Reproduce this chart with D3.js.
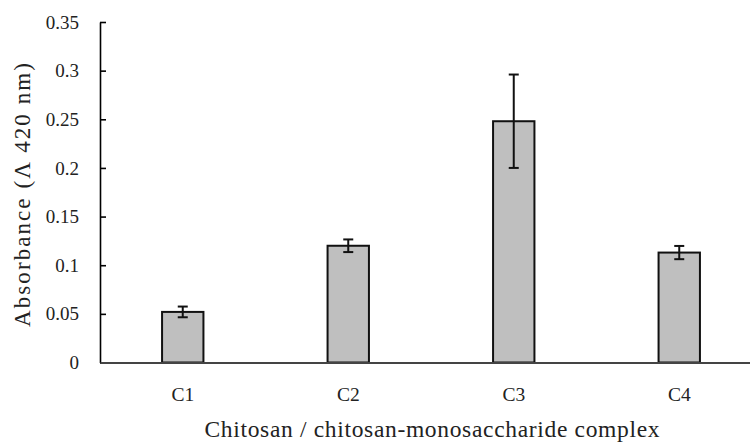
<!DOCTYPE html>
<html><head><meta charset="utf-8">
<script src="https://cdn.jsdelivr.net/npm/d3@7"></script>
<style>body{margin:0;background:#fff}svg{display:block}</style>
</head><body>
<svg id="chart" width="750" height="443"></svg>
<script>
const categories = ["C1", "C2", "C3", "C4"];
const values = [0.052, 0.120, 0.248, 0.113];
const errors = [0.0055, 0.0065, 0.048, 0.0068];
const yTicks = [0, 0.05, 0.1, 0.15, 0.2, 0.25, 0.3, 0.35];
const xTitle = "Chitosan / chitosan-monosaccharide complex";
const yTitle = "Absorbance (\u039B 420 nm)";

const svg = d3.select("#chart");
const font = "'Liberation Serif', 'DejaVu Serif', serif";
const m = {left: 100, top: 22, bottom: 362.5, right: 762};

const x = d3.scaleBand().domain(categories).range([m.left, m.right]).paddingInner(0).paddingOuter(0);
const y = d3.scaleLinear().domain([0, 0.35]).range([m.bottom, m.top]);
const bw = x.bandwidth() * 0.25;

// Y axis
const yAxis = svg.append("g").attr("transform", `translate(${m.left},0)`)
  .call(d3.axisLeft(y).tickValues(yTicks).tickFormat(d => d3.format("")(d)).tickSizeInner(-6).tickSizeOuter(0).tickPadding(21));
yAxis.attr("font-size", null).attr("font-family", null);
yAxis.select(".domain").attr("stroke", "#000").attr("stroke-width", 1.6);
yAxis.selectAll(".tick line").attr("stroke", "#000").attr("stroke-width", 1.6);
yAxis.selectAll("text").style("font-family", font).style("font-size", "19px").attr("fill", "#222");

// Bars
svg.append("g").selectAll("rect").data(categories).join("rect")
  .attr("x", (d) => x(d) + x.bandwidth()/2 - bw/2)
  .attr("y", (d, i) => y(values[i]))
  .attr("width", bw)
  .attr("height", (d, i) => y(0) - y(values[i]))
  .attr("fill", "#bfbfbf").attr("stroke", "#111").attr("stroke-width", 2);

// X axis
const xAxis = svg.append("g").attr("transform", `translate(0,${m.bottom})`)
  .call(d3.axisBottom(x).tickSize(0));
xAxis.attr("font-size", null).attr("font-family", null);
xAxis.select(".domain").attr("stroke", "#444").attr("stroke-width", 2);
xAxis.selectAll("text").attr("y", 38.5).attr("dy", 0)
  .style("font-family", font).style("font-size", "19.5px").attr("fill", "#222");

// Error bars
const eg = svg.append("g").attr("stroke", "#111").attr("stroke-width", 2);
categories.forEach((c, i) => {
  const cx = x(c) + x.bandwidth()/2;
  const top = y(values[i] + errors[i]), bot = y(values[i] - errors[i]);
  eg.append("line").attr("x1", cx).attr("x2", cx).attr("y1", top).attr("y2", bot);
  eg.append("line").attr("x1", cx-5).attr("x2", cx+5).attr("y1", top).attr("y2", top);
  eg.append("line").attr("x1", cx-5).attr("x2", cx+5).attr("y1", bot).attr("y2", bot);
});

// Titles
svg.append("text").attr("x", 432).attr("y", 437).attr("text-anchor", "middle")
  .style("font-family", font).style("font-size", "23.5px").attr("fill", "#222")
  .attr("textLength", 455).attr("lengthAdjust", "spacing").text(xTitle);
svg.append("text").attr("transform", "translate(30,195) rotate(-90)").attr("text-anchor", "middle")
  .style("font-family", font).style("font-size", "23px").attr("fill", "#222")
  .attr("textLength", 264).attr("lengthAdjust", "spacing").text(yTitle);
</script>
</body></html>
